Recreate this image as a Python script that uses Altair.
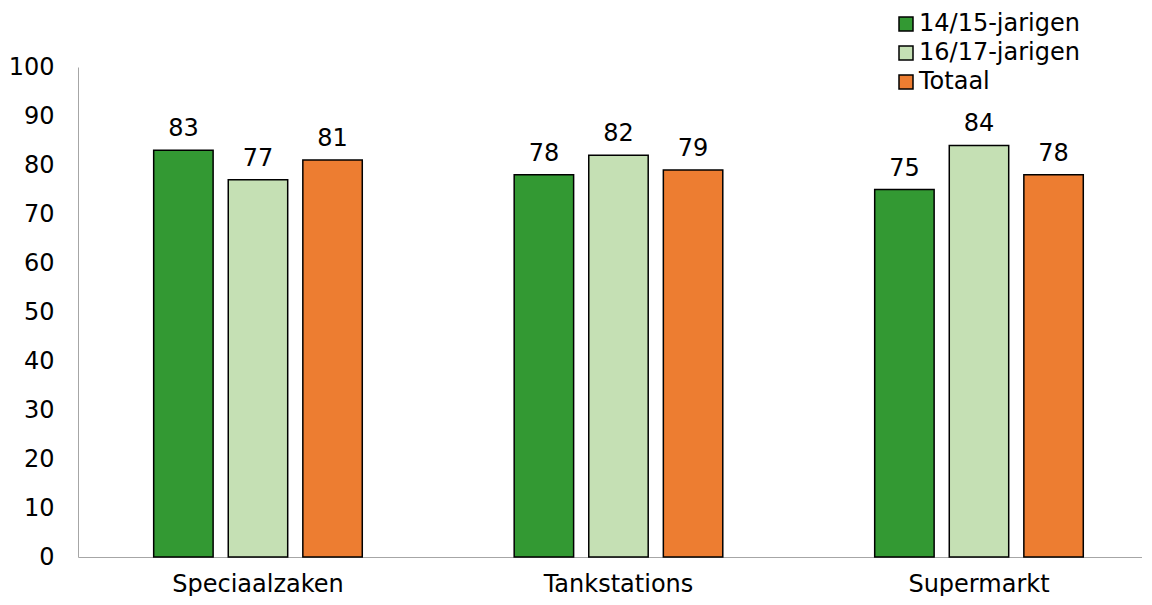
import altair as alt
import pandas as pd

categories = ["Speciaalzaken", "Tankstations", "Supermarkt"]
groups = ["14/15-jarigen", "16/17-jarigen", "Totaal"]
values_1415 = [83, 78, 75]
values_1617 = [77, 82, 84]
values_totaal = [81, 79, 78]
colors = ["#339933", "#c5e0b4", "#ed7d31"]

rows = []
for i, c in enumerate(categories):
    for g, vals in zip(groups, [values_1415, values_1617, values_totaal]):
        rows.append({"cat": c, "group": g, "value": vals[i]})
df = pd.DataFrame(rows)

FONT = "DejaVu Sans"
FS = 24

base = alt.Chart(df).encode(
    x=alt.X("cat:N", sort=categories, title=None,
            scale=alt.Scale(paddingInner=0.38, paddingOuter=0.1657, align=0.571),
            axis=alt.Axis(labelAngle=0, ticks=False, domainColor="#a6a6a6",
                          labelPadding=15, labelFontSize=FS, labelFont=FONT,
                          labelColor="black")),
    xOffset=alt.XOffset("group:N", sort=groups,
                        scale=alt.Scale(paddingInner=0.203, paddingOuter=0.1)),
)

bars = base.mark_bar(stroke="black", strokeWidth=1.5).encode(
    y=alt.Y("value:Q", title=None,
            scale=alt.Scale(domain=[0, 100]),
            axis=alt.Axis(values=list(range(0, 101, 10)), ticks=False, grid=False,
                          domainColor="#a6a6a6", labelPadding=24, labelFontSize=FS,
                          labelFont=FONT, labelColor="black")),
    color=alt.Color("group:N", sort=groups,
                    scale=alt.Scale(domain=groups, range=colors),
                    legend=alt.Legend(title=None, orient="none", legendX=816, legendY=-55,
                                      symbolType="square", symbolSize=196,
                                      symbolStrokeColor="black", symbolStrokeWidth=1.5,
                                      labelFontSize=FS, labelFont=FONT, labelColor="black",
                                      labelLimit=400, rowPadding=5, labelOffset=1)),
)

labels = base.mark_text(baseline="bottom", dy=-9, fontSize=FS, font=FONT, color="black").encode(
    y="value:Q",
    text="value:Q",
)

chart = (bars + labels).properties(
    width=1064, height=490,
    padding={"top": 4, "left": 0, "right": 0, "bottom": 0},
).configure_view(stroke=None)

chart.save("out.html", embed_options={"renderer": "svg", "actions": False})
